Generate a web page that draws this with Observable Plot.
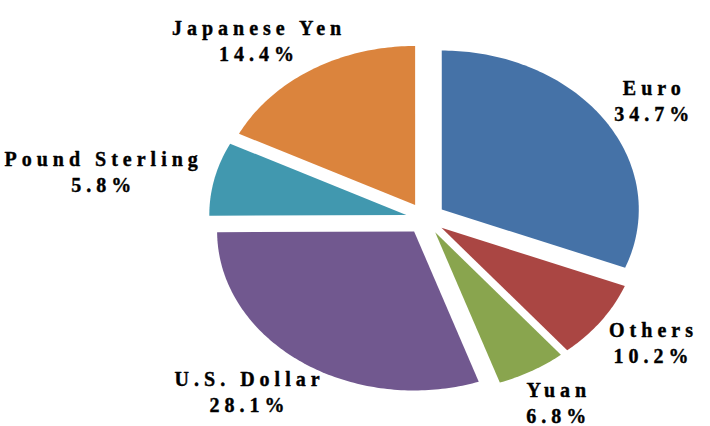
<!DOCTYPE html>
<html>
<head>
<meta charset="utf-8">
<script src="https://cdn.jsdelivr.net/npm/d3@7"></script>
<script src="https://cdn.jsdelivr.net/npm/@observablehq/plot@0.6"></script>
<style>
  html, body { margin: 0; padding: 0; background: #ffffff; }
  #chart { width: 710px; height: 426px; }
</style>
</head>
<body>
<div id="chart"></div>
<script>
// ---- data (clockwise from 12 o'clock) ----
const currencies = ["Euro", "Others", "Yuan", "U.S. Dollar", "Pound Sterling", "Japanese Yen"];
const shares = [34.7, 10.2, 6.8, 28.1, 5.8, 14.4];
const colors = ["#4572A7", "#AA4643", "#89A54E", "#71588F", "#4198AF", "#DB843D"];

// ---- layout ----
const W = 710, H = 426;
const CX = 425, CY = 218, RX = 197, RY = 159;   // elliptical (tilted) pie
const EXPLODE = 0.1, LABEL_R = 1.1;
const TILT_DIR = 110, TILT = 0.25;              // perspective-like tilt of the 3D pie
const FONT_SIZE = 20, LETTER = 5, LINE_H = 1.3;
const FONT_FAMILY = "'Liberation Serif', 'Times New Roman', serif";

const rad = a => a * Math.PI / 180, deg = r => r * 180 / Math.PI;
const norm180 = a => ((a % 360) + 540) % 360 - 180;

// perspective warp of an angle (clockwise from top, degrees)
function warp(psi) {
  const rho = norm180(psi - TILT_DIR);
  const c = Math.cos(rad(rho));
  let cp = (c + TILT) / (1 + TILT * c);
  cp = Math.max(-1, Math.min(1, cp));
  return (rho < 0 ? -1 : 1) * deg(Math.acos(cp)) + TILT_DIR;
}
// starting angle so that the first slice begins straight up after the warp
const rhoTop = norm180(-TILT_DIR);
const cTop = (Math.cos(rad(rhoTop)) - TILT) / (1 - TILT * Math.cos(rad(rhoTop)));
const START = (rhoTop < 0 ? -1 : 1) * deg(Math.acos(cTop)) + TILT_DIR;

const table = currencies.map((name, i) => ({name, share: shares[i]}));
const arcs = d3.pie().sort(null).value(d => d.share)
  .startAngle(rad(START)).endAngle(rad(START + 360))(table);

const polys = [];
const labels = [];
const ctx = document.createElement("canvas").getContext("2d");
ctx.font = `bold ${FONT_SIZE}px 'Liberation Serif'`;

arcs.forEach(a => {
  let a0 = warp(deg(a.startAngle));
  let a1 = warp(deg(a.endAngle));
  while (a1 <= a0 + 1e-9) a1 += 360;
  const m = (a0 + a1) / 2;
  const ox = EXPLODE * Math.sin(rad(m)), oy = -EXPLODE * Math.cos(rad(m));
  const name = a.data.name;
  polys.push({name, x: ox, y: oy});
  const n = Math.max(2, Math.ceil(a1 - a0));
  for (let k = 0; k <= n; k++) {
    const t = a0 + (a1 - a0) * k / n;
    polys.push({name, x: ox + Math.sin(rad(t)), y: oy - Math.cos(rad(t))});
  }
  // label: outside end, box edge touching the anchor point
  const text = `${name}\n${a.data.share.toFixed(1)}%`;
  const w = Math.max(...text.split("\n").map(s => ctx.measureText(s).width + LETTER * (s.length - 1)));
  const h = FONT_SIZE * (LINE_H + 0.66);
  const r = LABEL_R + EXPLODE;
  const px = RX * r * Math.sin(rad(m)) + Math.sin(rad(m)) * w / 2;
  const py = -RY * r * Math.cos(rad(m)) - Math.cos(rad(m)) * h / 2;
  labels.push({text, x: px / RX, y: py / RY});
});

const plot = Plot.plot({
  width: W,
  height: H,
  margin: 0,
  x: {domain: [-1, 1], range: [CX - RX, CX + RX], axis: null},
  y: {domain: [-1, 1], range: [CY - RY, CY + RY], axis: null},
  color: {domain: currencies, range: colors},
  style: {background: "#ffffff"},
  marks: [
    Plot.line(polys, {x: "x", y: "y", z: "name", fill: "name", stroke: "none", curve: "linear-closed"}),
    Plot.text(labels, {
      x: "x", y: "y", text: "text",
      fontSize: FONT_SIZE, fontWeight: "bold", fontFamily: FONT_FAMILY,
      lineHeight: LINE_H, textAnchor: "middle", lineAnchor: "middle",
      fill: "#000000", stroke: "#000000", strokeWidth: 0.4, dx: LETTER / 2
    })
  ]
});
plot.querySelectorAll("text").forEach(t => t.setAttribute("letter-spacing", LETTER));
document.getElementById("chart").appendChild(plot);
</script>
</body>
</html>
